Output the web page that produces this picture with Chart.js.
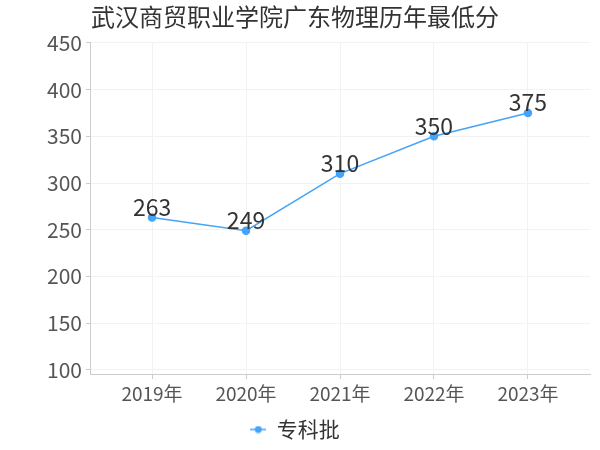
<!DOCTYPE html>
<html>
<head>
<meta charset="utf-8">
<script src="https://cdn.jsdelivr.net/npm/chart.js@4/dist/chart.umd.min.js"></script>
<style>
  html, body { margin: 0; padding: 0; background: #fff; }
  #wrap { width: 600px; height: 450px; }
</style>
</head>
<body>
<div id="wrap"><canvas id="lineChart"></canvas></div>
<script>
const years = ["2019年", "2020年", "2021年", "2022年", "2023年"];
const scores = [263, 249, 310, 350, 375];
const seriesName = "专科批";
const chartTitle = "武汉商贸职业学院广东物理历年最低分";
const yTicks = [100, 150, 200, 250, 300, 350, 400, 450];

const lineColor = "#45a3f8";
const fontFamily = "'Noto Sans CJK SC', 'DejaVu Sans', sans-serif";

// 圖例用的小圖：線 + 圓點
function legendIcon() {
  const c = document.createElement("canvas");
  c.width = 16;
  c.height = 8;
  const g = c.getContext("2d");
  g.strokeStyle = lineColor;
  g.lineWidth = 1.5;
  g.beginPath();
  g.moveTo(0, 4);
  g.lineTo(16, 4);
  g.stroke();
  g.fillStyle = lineColor;
  g.beginPath();
  g.arc(8, 4, 3.5, 0, Math.PI * 2);
  g.fill();
  return c;
}

// 在點上方寫數值
const valueLabels = {
  id: "valueLabels",
  afterDatasetsDraw(chart) {
    const ctx = chart.ctx;
    const meta = chart.getDatasetMeta(0);
    ctx.save();
    ctx.font = "23px " + fontFamily;
    ctx.fillStyle = "#333";
    ctx.textAlign = "center";
    ctx.textBaseline = "bottom";
    meta.data.forEach((pt, i) => {
      ctx.fillText(String(scores[i]), pt.x, pt.y + 1);
    });
    ctx.restore();
  },
};

const icon = legendIcon();
const ctx = document.getElementById("lineChart").getContext("2d");
new Chart(ctx, {
  type: "line",
  data: {
    datasets: [
      {
        label: seriesName,
        data: scores.map((v, i) => ({ x: i, y: v })),
        borderColor: lineColor,
        backgroundColor: lineColor,
        borderWidth: 1.5,
        pointRadius: 3.5,
        pointHoverRadius: 4,
        tension: 0,
        fill: false,
      },
    ],
  },
  options: {
    responsive: true,
    maintainAspectRatio: false,
    animation: false,
    layout: { padding: { left: 0, right: 10, top: 0, bottom: 0 } },
    plugins: {
      title: {
        display: true,
        text: chartTitle,
        color: "#333",
        font: { size: 24, family: fontFamily, weight: "normal" },
        padding: { top: 2, bottom: 12 },
      },
      legend: {
        display: true,
        position: "bottom",
        labels: {
          color: "#333",
          font: { size: 21, family: fontFamily },
          usePointStyle: true,
          boxWidth: 16,
          padding: 5,
          generateLabels(chart) {
            const items = Chart.defaults.plugins.legend.labels.generateLabels(chart);
            items.forEach((it) => {
              it.pointStyle = icon;
            });
            return items;
          },
        },
      },
      tooltip: { enabled: false },
    },
    scales: {
      x: {
        type: "linear",
        min: -0.66,
        max: 4.66,
        afterBuildTicks(scale) {
          scale.ticks = years.map((_, i) => ({ value: i }));
        },
        afterFit(scale) {
          scale.height = 40;
        },
        ticks: {
          color: "#555",
          font: { size: 19, family: fontFamily },
          callback: (v) => years[v],
          maxRotation: 0,
          padding: 3,
        },
        grid: { color: "#f2f2f2", drawTicks: true, tickLength: 5, tickColor: "#ccc" },
        border: { color: "#ccc" },
      },
      y: {
        min: 95.7,
        max: 450,
        afterBuildTicks(scale) {
          scale.ticks = yTicks.map((v) => ({ value: v }));
        },
        afterFit(scale) {
          scale.width = 90;
        },
        ticks: {
          color: "#555",
          font: { size: 21, family: fontFamily },
          padding: 4,
        },
        grid: { color: "#f2f2f2", tickLength: 4, tickColor: "#ccc" },
        border: { color: "#ccc" },
      },
    },
  },
  plugins: [valueLabels],
});
</script>
</body>
</html>
